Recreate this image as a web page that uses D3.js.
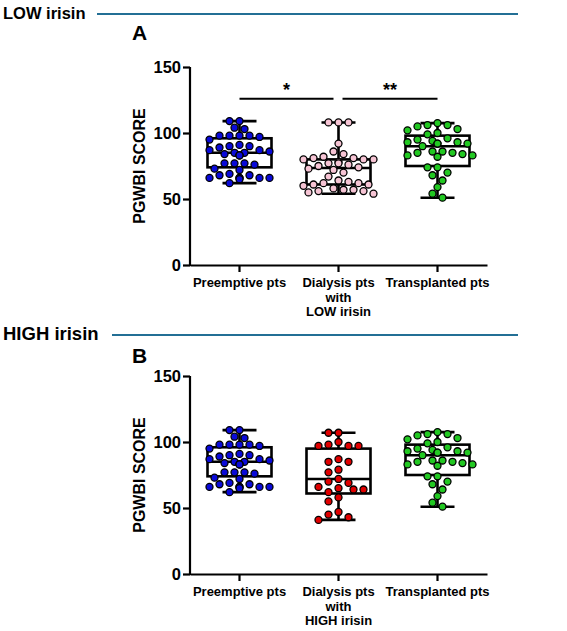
<!DOCTYPE html>
<html><head><meta charset="utf-8">
<script src="https://cdn.jsdelivr.net/npm/d3@7"></script>
<style>
body{margin:0;background:#fff;}
text{font-family:"Liberation Sans",Arial,sans-serif;font-weight:bold;fill:#000;}
</style></head>
<body><svg id="c" width="567" height="631"></svg>
<script>
// ---- data ----
const categoriesA = ["Preemptive pts", "Dialysis pts\nwith\nLOW irisin", "Transplanted pts"];
const categoriesB = ["Preemptive pts", "Dialysis pts\nwith\nHIGH irisin", "Transplanted pts"];
const yTicks = [0, 50, 100, 150];

const preemptive = [109,109,104,103,98,98,98,97,98,95,90,90,91,89,87,87,86,85,85,84,83,83,83,77,77,76,77,73,72,69,68,68,66,66,66,66,66,65,62];
const dialysisLow = [108,108,108,92,86,84,82,81,81,80,80,80,78,77,77,76,75,74,73,72,70,67,64,63,62,62,61,61,60,58,57,57,56,56,55,54];
const transplanted = [107.5,106,106,105,103,102,100,99,96,95,94,93,93,92,92,92,90,86,86,85,85,84,83,83,82,74,74,70,68,64,59,54,51];
const dialysisHigh = [107,107,100,98,97,97,97,87,85,85,79,77,72,70,69,66,65,64,64,62,58,55,47,45,43,41];

// box stats: [min, q1, median, q3, max]
const boxPreemptive = [62, 74, 85, 96, 109];
const boxDialysisLow = [54, 61, 73.5, 80, 108];
const boxTransplanted = [51, 75, 90, 98, 107.5];
const boxDialysisHigh = [41, 61, 72, 95, 107];

const colPreemptive = "#0a0ad8", colLow = "#f6c4d4", colTrans = "#22c822", colHigh = "#e00000";

const svg = d3.select("#c");

function header(label, y, size, lineStart){
  svg.append("text").attr("x",3).attr("y",y+5).attr("font-size",size).text(label);
  svg.append("line").attr("x1",lineStart).attr("x2",518).attr("y1",y).attr("y2",y)
    .attr("stroke","#236f95").attr("stroke-width",2);
}
header("LOW irisin", 14, 16.5, 97);
header("HIGH irisin", 335, 18.5, 112);

function beeswarm(vals, y, cx){
  const placed = [];
  const sorted = vals.slice().sort((a,b)=>b-a);
  const offs = [0,-5,5,-10,10,-15,15,-20,20,-25,25,-30,30,-35,35];
  sorted.forEach(v=>{
    const py = y(v);
    for(const o of offs){
      const px = cx + o;
      if(placed.every(p => Math.hypot(p.x-px,p.y-py) >= 8.2)){ placed.push({x:px,y:py}); return; }
    }
    placed.push({x:cx,y:py});
  });
  return placed;
}

function panel(opts){
  const g = svg.append("g");
  const y = d3.scaleLinear().domain([0,150]).range([opts.y0, opts.y0-198]);
  const x = d3.scaleBand().domain(opts.cats).range([190,487]);
  g.append("text").attr("x",132).attr("y",opts.letterY).attr("font-size",21).text(opts.letter);

  const ya = g.append("g").attr("transform","translate(190,0)")
    .call(d3.axisLeft(y).tickValues(yTicks).tickSize(7).tickPadding(2));
  ya.select(".domain").attr("stroke-width",2.2).attr("d",`M0,${y(150)}V${y(0)+1}`);
  ya.selectAll(".tick line").attr("stroke-width",2.2);
  ya.selectAll(".tick text").attr("font-size",16.5).attr("font-family","Liberation Sans, Arial, sans-serif").attr("font-weight","bold").attr("dy","0.36em");

  const xa = g.append("g").attr("transform",`translate(0,${opts.y0})`)
    .call(d3.axisBottom(x).tickSize(7).tickSizeOuter(0).tickPadding(6));
  xa.select(".domain").attr("stroke-width",2.2);
  xa.selectAll(".tick line").attr("stroke-width",2.2);
  xa.selectAll(".tick text").attr("font-size",13).attr("font-family","Liberation Sans, Arial, sans-serif").attr("font-weight","bold")
    .each(function(d){
      const t = d3.select(this); t.text("");
      d.split("\n").forEach((s,i)=>t.append("tspan").attr("x",0).attr("dy", i===0 ? "0.71em" : "1.12em").text(s));
    });

  g.append("text").attr("transform",`translate(145,${(y(0)+y(150))/2}) rotate(-90)`)
    .attr("text-anchor","middle").attr("font-size",16).text("PGWBI SCORE");

  opts.groups.forEach((grp,i)=>{
    const cx = x(opts.cats[i]) + x.bandwidth()/2;
    const [mn,q1,md,q3,mx] = grp.box;
    const bw = 64, cw = 34;
    const bx = g.append("g").attr("stroke","#000").attr("stroke-width",2.6).attr("fill","none");
    bx.append("line").attr("x1",cx).attr("x2",cx).attr("y1",y(mx)).attr("y2",y(q3));
    bx.append("line").attr("x1",cx).attr("x2",cx).attr("y1",y(q1)).attr("y2",y(mn));
    bx.append("line").attr("x1",cx-cw/2).attr("x2",cx+cw/2).attr("y1",y(mx)).attr("y2",y(mx));
    bx.append("line").attr("x1",cx-cw/2).attr("x2",cx+cw/2).attr("y1",y(mn)).attr("y2",y(mn));
    bx.append("rect").attr("x",cx-bw/2).attr("width",bw).attr("y",y(q3)).attr("height",y(q1)-y(q3));
    bx.append("line").attr("x1",cx-bw/2).attr("x2",cx+bw/2).attr("y1",y(md)).attr("y2",y(md));
    const pts = beeswarm(grp.vals, y, cx);
    g.append("g").selectAll("circle").data(pts).join("circle")
      .attr("cx",d=>d.x).attr("cy",d=>d.y).attr("r",3.5)
      .attr("fill",grp.color).attr("stroke","#000").attr("stroke-width",1.3);
  });

  if(opts.sig){
    opts.sig.forEach(s=>{
      const x1 = x(opts.cats[s.a]) + x.bandwidth()/2 + s.pa, x2 = x(opts.cats[s.b]) + x.bandwidth()/2 + s.pb;
      g.append("line").attr("x1",x1).attr("x2",x2).attr("y1",y(126)).attr("y2",y(126)).attr("stroke","#000").attr("stroke-width",2);
      g.append("text").attr("x",(x1+x2)/2).attr("y",y(126)-3).attr("text-anchor","middle").attr("font-size",18).text(s.label);
    });
  }
}

panel({y0:265, letterY:40, letter:"A", cats:categoriesA,
  groups:[{vals:preemptive,box:boxPreemptive,color:colPreemptive},
          {vals:dialysisLow,box:boxDialysisLow,color:colLow},
          {vals:transplanted,box:boxTransplanted,color:colTrans}],
  sig:[{a:0,b:1,pa:0,pb:-5,label:"*"},{a:1,b:2,pa:4,pb:0,label:"**"}]});
panel({y0:574, letterY:363, letter:"B", cats:categoriesB,
  groups:[{vals:preemptive,box:boxPreemptive,color:colPreemptive},
          {vals:dialysisHigh,box:boxDialysisHigh,color:colHigh},
          {vals:transplanted,box:boxTransplanted,color:colTrans}]});
</script></body></html>
